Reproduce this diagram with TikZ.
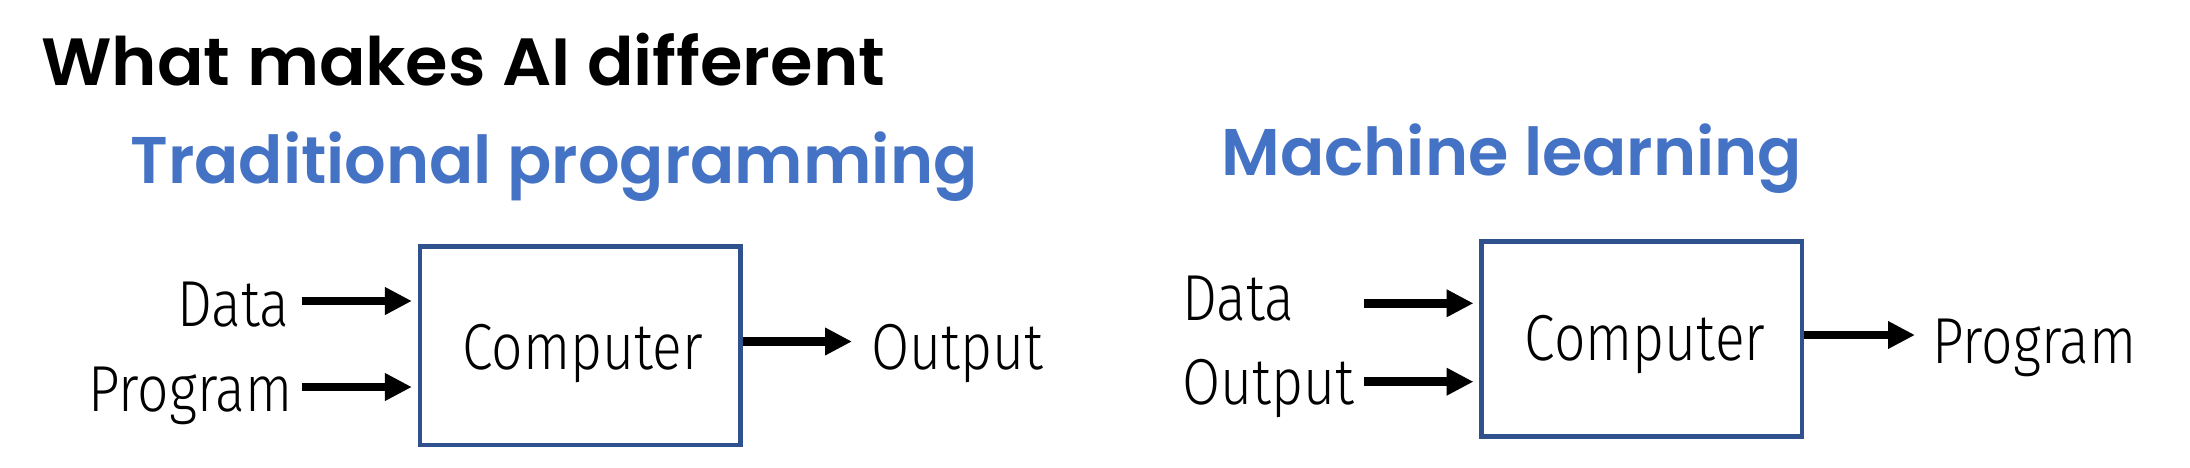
\documentclass[tikz,border=0pt]{standalone}
\usepackage{fontspec}
\usetikzlibrary{arrows.meta}
\newfontfamily\titlefont{Poppins SemiBold}[FakeStretch=1.03]
\newfontfamily\headfont{Poppins SemiBold}[FakeStretch=0.99]
\newfontfamily\bodyfont{Fira Sans Light}[FakeStretch=0.85]
\definecolor{headblue}{HTML}{4472C4}
\definecolor{boxblue}{HTML}{2F528F}
\tikzset{
  lbl/.style={inner sep=0pt, anchor=base west, font=\bodyfont\fontsize{32.5}{38}\selectfont},
  clbl/.style={inner sep=0pt, anchor=base, font=\bodyfont\fontsize{32.5}{38}\selectfont},
  ttl/.style={inner sep=0pt, anchor=base west, font=\titlefont\fontsize{33.4}{38}\selectfont},
  hdg/.style={inner sep=0pt, anchor=base west, text=headblue, font=\headfont\fontsize{33}{38}\selectfont},
  compbox/.style={draw=boxblue, line width=2.3pt, minimum width=160.3pt, inner sep=0pt},
  arr/.style={line width=4.3pt, -{Triangle[length=13.5pt,width=13pt]}}
}
\begin{document}
\begin{tikzpicture}[x=0.5pt,y=-0.5pt]
\useasboundingbox (0,0) rectangle (2190,467);
% titles
\node[ttl] (title) at (41,85) {What makes AI different};
\node[hdg] (h1) at (130,183) {Traditional programming};
\node[hdg] (h2) at (1221,175) {Machine learning};
% left diagram
\node[compbox, minimum height=99.35pt] (c1) at (580.1,345.7) {};
\node[clbl] (c1t) at (582.5,369) {Computer};
\node[lbl] (ld) at (177,326.5) {Data};
\node[lbl] (lp) at (88,411) {Program};
\node[lbl] (lo) at (871,369) {Output};
\coordinate (la1) at (301.5,301);
\coordinate (la2) at (301.5,387);
\coordinate (la3) at (740.5,341.5);
\coordinate (la3e) at (852,341.5);
\draw[arr, shorten >=2.8pt] (la1) -- (la1 -| c1.west);
\draw[arr, shorten >=2.8pt] (la2) -- (la2 -| c1.west);
\draw[arr] (la3 -| c1.east) -- (la3e);
% right diagram
\node[compbox, minimum height=97.7pt] (c2) at (1641.7,339) {};
\node[clbl] (c2t) at (1645,360) {Computer};
\node[lbl] (rd) at (1182,320) {Data};
\node[lbl] (ro) at (1182,404) {Output};
\node[lbl] (rp) at (1932,363) {Program};
\coordinate (ra1) at (1364,303.3);
\coordinate (ra2) at (1364,381.7);
\coordinate (ra3) at (1801.7,335);
\coordinate (ra3e) at (1915,335);
\draw[arr, shorten >=2.8pt] (ra1) -- (ra1 -| c2.west);
\draw[arr, shorten >=2.8pt] (ra2) -- (ra2 -| c2.west);
\draw[arr] (ra3 -| c2.east) -- (ra3e);
\end{tikzpicture}
\end{document}
